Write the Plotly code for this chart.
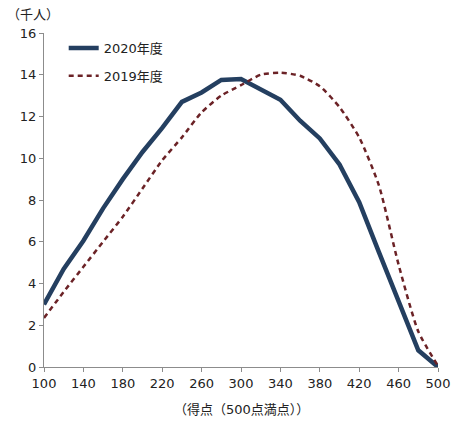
import plotly.graph_objects as go

x_scores = [100, 120, 140, 160, 180, 200, 220, 240, 260, 280, 300,
            320, 340, 360, 380, 400, 420, 440, 460, 480, 500]
y2020 = [3.0, 4.7, 6.05, 7.6, 9.0, 10.3, 11.45, 12.7, 13.15, 13.75, 13.8,
         13.3, 12.8, 11.8, 10.95, 9.7, 7.9, 5.5, 3.1, 0.8, 0.0]
y2019 = [2.35, 3.6, 4.8, 6.0, 7.2, 8.55, 9.9, 11.0, 12.2, 13.0, 13.5,
         14.0, 14.1, 13.95, 13.45, 12.45, 11.0, 8.7, 4.9, 1.7, 0.05]
x_ticks = [100, 140, 180, 220, 260, 300, 340, 380, 420, 460, 500]
y_ticks = [0, 2, 4, 6, 8, 10, 12, 14, 16]
names = ["2020年度", "2019年度"]

FONT = "DejaVu Sans, Noto Sans CJK JP"
fig = go.Figure()
fig.add_trace(go.Scatter(x=x_scores, y=y2020, mode="lines", name=names[0],
                         line=dict(color="#243F60", width=4.5),
                         legendgroup="a"))
fig.add_trace(go.Scatter(x=x_scores, y=y2019, mode="lines", name=names[1],
                         line=dict(color="#6B2226", width=2.5, dash="5px,4px",
                                   shape="spline", smoothing=0.6),
                         legendgroup="b"))
fig.update_layout(
    width=451, height=421,
    margin=dict(l=44, r=13, t=33, b=54, autoexpand=False),
    plot_bgcolor="white", paper_bgcolor="white",
    font=dict(family=FONT, size=13, color="#222"),
    legend=dict(x=0.05, y=1.0, xanchor="left", yanchor="top",
                bgcolor="rgba(0,0,0,0)", tracegroupgap=8,
                font=dict(size=13), itemwidth=30),
    showlegend=True,
    xaxis=dict(range=[100, 500], tickvals=x_ticks, showgrid=False, zeroline=False,
               showline=True, linecolor="#8c8c8c", linewidth=1, automargin=False,
               ticks="outside", ticklen=4, tickcolor="#8c8c8c",
               tickfont=dict(size=13)),
    yaxis=dict(range=[0, 16], tickvals=y_ticks, showgrid=False, zeroline=False,
               showline=True, linecolor="#8c8c8c", linewidth=1, automargin=False,
               ticks="outside", ticklen=4, tickcolor="#8c8c8c",
               tickfont=dict(size=13)),
    annotations=[
        dict(text="（千人）", x=0.0, y=1.0, xref="paper", yref="paper",
             xanchor="right", yanchor="bottom", xshift=17, yshift=8,
             showarrow=False, font=dict(size=13, family="Noto Sans CJK JP")),
        dict(text="（得点（500点満点））", x=0.5, y=0, xref="paper", yref="paper",
             xanchor="center", yanchor="top", yshift=-33,
             showarrow=False, font=dict(size=13)),
    ],
)
fig.write_html("out.html")
